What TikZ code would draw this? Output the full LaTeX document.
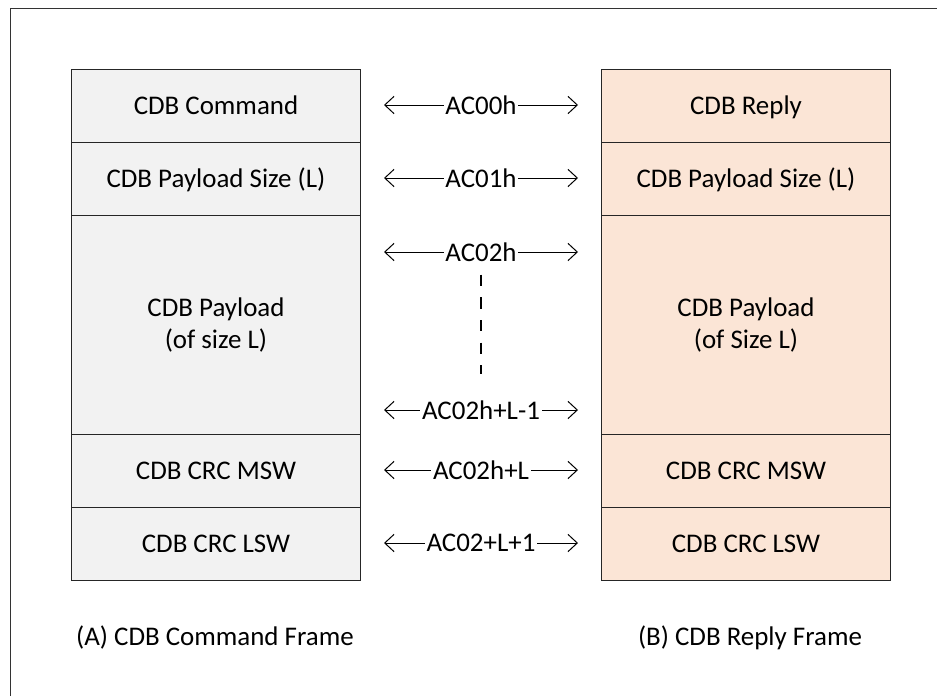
\documentclass[tikz,border=0pt]{standalone}
\usepackage{fontspec}
\setmainfont{Carlito}
\usetikzlibrary{arrows.meta}
\definecolor{cmdgray}{HTML}{F2F2F2}
\definecolor{replypeach}{HTML}{FBE5D6}
\tikzset{
	cell/.style={draw=black!85, line width=0.75pt, minimum width=217pt, minimum height=54.75pt, inner sep=0pt, align=center},
	row/.style={cell, text height=18.2pt, text depth=5.2pt},
	addr/.style={inner sep=1pt},
	link/.style={line width=0.75pt, {Straight Barb[length=7pt,width=13pt]}-},
}
\begin{document}
\begin{tikzpicture}[x=0.75pt,y=-0.75pt,font=\fontsize{20.2}{24.5}\selectfont]
	\useasboundingbox (0,0) rectangle (937,696);
	\draw[line width=0.75pt, black!80] (10,696) |- (937,8);
	% command frame
	\node[row,fill=cmdgray] (cmd) at (216,106.3) {CDB Command};
	\node[row,fill=cmdgray] (csize) at (216,179) {CDB Payload Size (L)};
	\node[cell,fill=cmdgray,minimum height=163.9pt] (cpay) at (216,325) {CDB Payload\\(of size L)};
	\node[row,fill=cmdgray] (cmsw) at (216,470.8) {CDB CRC MSW};
	\node[row,fill=cmdgray] (clsw) at (216,543.8) {CDB CRC LSW};
	% reply frame
	\node[row,fill=replypeach] (rep) at (746,106.3) {CDB Reply};
	\node[row,fill=replypeach] (rsize) at (746,179) {CDB Payload Size (L)};
	\node[cell,fill=replypeach,minimum height=163.9pt] (rpay) at (746,325) {CDB Payload\\(of Size L)};
	\node[row,fill=replypeach] (rmsw) at (746,470.8) {CDB CRC MSW};
	\node[row,fill=replypeach] (rlsw) at (746,543.8) {CDB CRC LSW};
	% addresses
	\foreach \n/\y/\t in {0/105/AC00h, 1/178/AC01h, 2/252/AC02h, 3/410/AC02h+L-1, 4/470/AC02h+L, 5/543/AC02+L+1}{
		\node[addr] (a\n) at (481,\y) {\t};
		\coordinate (l\n) at (384,\y);
		\coordinate (r\n) at (578,\y);
		\draw[link] (l\n) -- (a\n.west);
		\draw[link] (r\n) -- (a\n.east);
	}
	\draw[line width=1pt, dash pattern=on 8.5pt off 8.5pt, shorten <=17pt, shorten >=27pt] (a2.center) -- (a3.center);
	% captions
	\node (capa) at (215,638) {(A) CDB Command Frame};
	\node (capb) at (750,638) {(B) CDB Reply Frame};
\end{tikzpicture}
\end{document}
